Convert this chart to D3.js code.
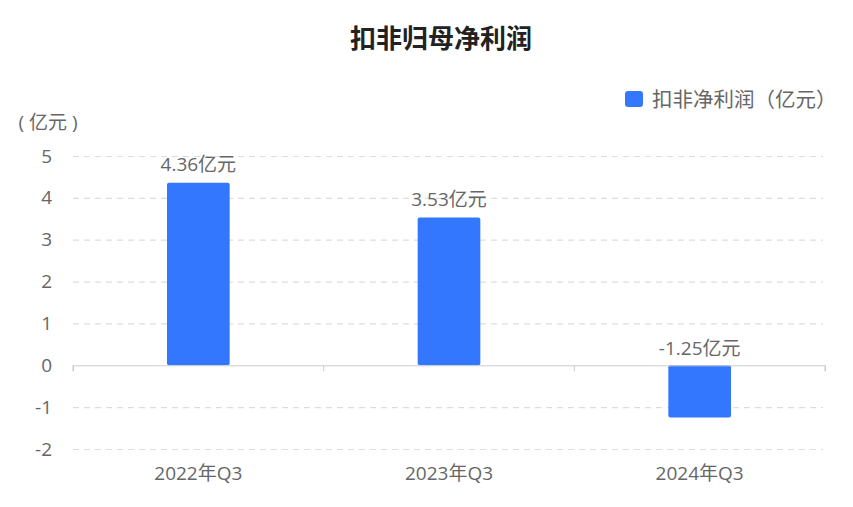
<!DOCTYPE html>
<html><head><meta charset="utf-8">
<script src="https://cdn.jsdelivr.net/npm/d3@7"></script>
<style>body{margin:0;background:#fff;}</style>
</head><body><svg id="c" width="853" height="507"></svg>
<script>
const categories = ["2022年Q3","2023年Q3","2024年Q3"];
const values = [4.36, 3.53, -1.25];
const yTicks = [-2,-1,0,1,2,3,4,5];
const seriesName = "扣非净利润（亿元）";
const title = "扣非归母净利润";
const unit = "( 亿元 )";

const svg = d3.select("#c");
const font = '"Open Sans","Noto Sans CJK SC",sans-serif';
const x = d3.scaleBand().domain(categories).range([73,825]);
const y = d3.scaleLinear().domain([-2,5]).range([449,156]);

svg.append("text").attr("x",441).attr("y",36).attr("text-anchor","middle").attr("dominant-baseline","central")
  .attr("font-size",26).attr("font-weight","bold").attr("fill","#222").attr("font-family",'"Noto Sans CJK SC",sans-serif').text(title);

// legend
svg.append("rect").attr("x",625).attr("y",91).attr("width",18).attr("height",16).attr("rx",3).attr("fill","#3377ff");
svg.append("text").attr("x",652).attr("y",99).attr("dominant-baseline","central").attr("font-size",20.5)
  .attr("fill","#666").attr("font-family",font).text(seriesName);

svg.append("text").attr("x",48).attr("y",122).attr("text-anchor","middle").attr("dominant-baseline","central")
  .attr("font-size",19).attr("fill","#666").attr("font-family",font).text(unit);

// grid
const grid = svg.append("g").attr("transform","translate(73,0)")
  .call(d3.axisLeft(y).tickValues(yTicks).tickSize(-750).tickFormat(""));
grid.select(".domain").remove();
grid.selectAll(".tick line").attr("stroke","#ddd").attr("stroke-dasharray","6,5").attr("stroke-width",1.2)
  .filter(d=>d===0).attr("stroke","none");

// y labels
const yl = svg.append("g").attr("transform","translate(73,0)")
  .call(d3.axisLeft(y).tickValues(yTicks).tickSize(0).tickPadding(21).tickFormat(d=>String(d)));
yl.select(".domain").remove();
yl.selectAll("text").attr("font-size",19).attr("fill","#666").attr("font-family",font);

// bars
svg.append("g").selectAll("rect").data(values).join("rect")
  .attr("x",(d,i)=>x(categories[i])+x.bandwidth()*0.375)
  .attr("width",x.bandwidth()*0.25)
  .attr("y",d=>y(Math.max(0,d)))
  .attr("height",d=>Math.abs(y(d)-y(0)))
  .attr("rx",2).attr("fill","#3377ff");

// value labels
svg.append("g").selectAll("text").data(values).join("text")
  .attr("x",(d,i)=>x(categories[i])+x.bandwidth()/2)
  .attr("y",d=>d>=0 ? y(d)-12 : y(0)-10)
  .attr("text-anchor","middle").attr("font-size",19).attr("fill","#666").attr("font-family",font)
  .text(d=>d.toFixed(2)+"亿元");

// x axis at zero
const xa = svg.append("g").attr("transform",`translate(0,${y(0)})`)
  .call(d3.axisBottom(x).tickSize(6).tickSizeOuter(6).tickFormat(""));
xa.select(".domain").attr("stroke","#ccc");
xa.selectAll(".tick").remove();
const bounds = categories.map(c=>x(c)).concat([x.range()[1]]);
xa.selectAll("line.b").data(bounds).join("line").attr("class","b")
  .attr("x1",d=>d).attr("x2",d=>d).attr("y1",0).attr("y2",6).attr("stroke","#ccc");

// x labels
svg.append("g").selectAll("text").data(categories).join("text")
  .attr("x",d=>x(d)+x.bandwidth()/2).attr("y",473).attr("text-anchor","middle").attr("dominant-baseline","central")
  .attr("font-size",19).attr("fill","#666").attr("font-family",font).text(d=>d);
</script></body></html>
